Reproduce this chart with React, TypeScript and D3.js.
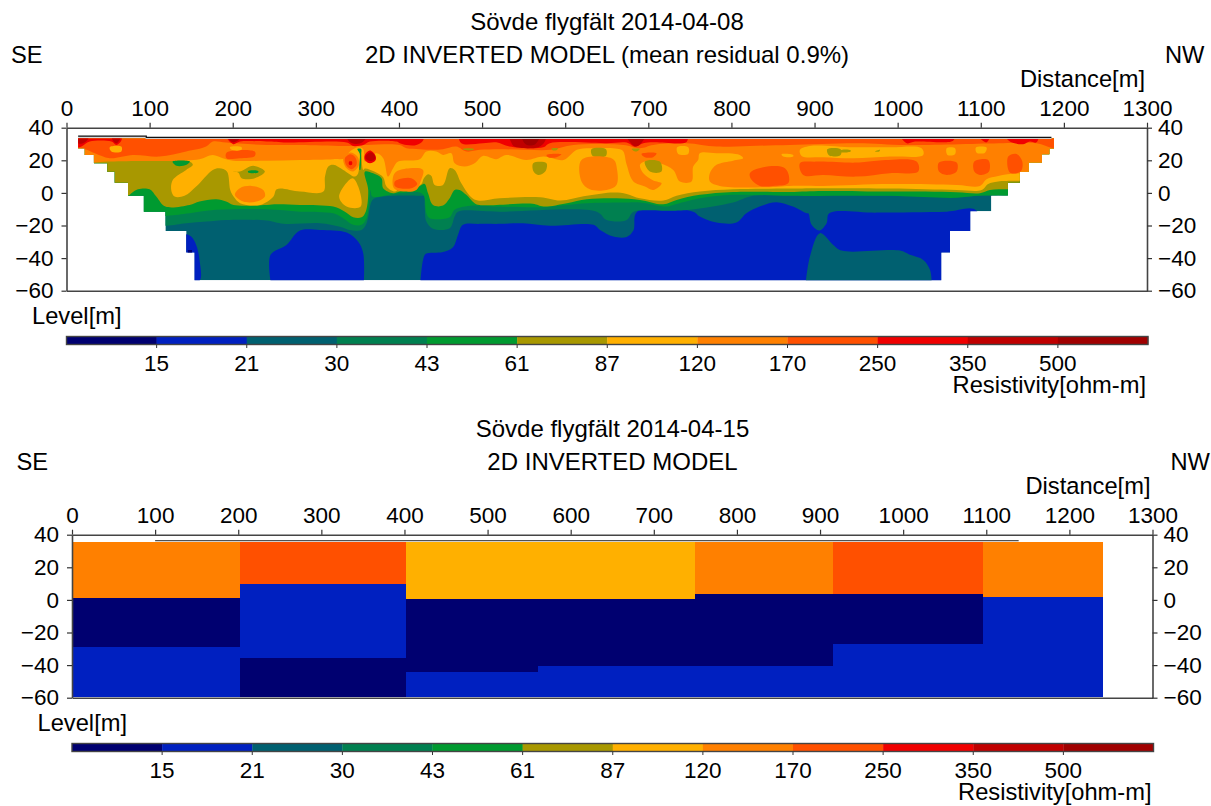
import React from "react";
import { useEffect, useRef } from "react";
import * as d3 from "d3";

type Pt = [number, number];

const distanceTicks = [0, 100, 200, 300, 400, 500, 600, 700, 800, 900, 1000, 1100, 1200, 1300];
const levelTicks = [40, 20, 0, -20, -40, -60];
const scaleLabels = [15, 21, 30, 43, 61, 87, 120, 170, 250, 350, 500];
const scaleColors = ["#000070", "#0020c0", "#006070", "#008050", "#009a30", "#a89800", "#ffb000", "#ff8000", "#ff5000", "#f00000", "#c00000", "#a00000"];

// typical resistivity of each colour class
const R0 = 12, R1 = 18, R2 = 25, R3 = 36, R4 = 50, R5 = 73, R6 = 100, R7 = 145, R8 = 200, R9 = 300, R10 = 420, R11 = 600;

// first survey: the section outline, distance then level
const outline: Pt[] = [[14, 33.4], [14, 27.4], [22, 27.4], [22, 23.3], [33, 23.3], [33, 18.2], [49, 18.2], [49, 13], [58, 13], [58, 6.3], [74, 6.3], [74, -1.8], [93, -1.8], [93, -11.5], [119, -11.5], [119, -23.3], [144, -23.3], [144, -36.6], [154, -36.6], [154, -53.6], [1052.5, -53.6], [1052.5, -36.6], [1063, -36.6], [1063, -23.3], [1087.4, -23.3], [1087.4, -11.2], [1112.7, -11.2], [1112.7, -1.8], [1132.7, -1.8], [1132.7, 6.3], [1147, 6.3], [1147, 13], [1157.6, 13], [1157.6, 18.6], [1173.6, 18.6], [1173.6, 23.7], [1182.5, 23.7], [1182.5, 27.2], [1188, 27.2], [1188, 33.4]];
const topoLine: Pt[] = [[14, 34.8], [96, 34.8], [96, 34.1], [1185, 34.1]];

// contour lines: everything above the line takes the class colour
const lineR3: Pt[] = [[0, -20.2], [119, -20.2], [144, -18.6], [168, -17.6], [192, -16.6], [241, -17], [261, -19], [305, -18.6], [329, -20.7], [341, -22.7], [355, -22.7], [361, -18.6], [367, -5.3], [371, -3.3], [393, -1.8], [427, -1.8], [430, -1.8], [431, -8.4], [433, -17.6], [441, -22], [461, -21.7], [467, -14.5], [471, -11.5], [521, -11.5], [638, -11.5], [650, -16.6], [674, -16.6], [680, -12.5], [686, -11], [730, -11], [750, -10.4], [802, -5.9], [826, -1.8], [906, -1], [991, -1.8], [1063, -2.7], [1111, -1.4], [1200, -1.4]];
const lineR4: Pt[] = [[0, -14.1], [119, -14.1], [148, -12.5], [180, -10.4], [241, -10], [281, -11.5], [321, -12.5], [333, -15.5], [345, -19.6], [355, -19.6], [361, -15.5], [364, -6.3], [366, 1.8], [368, -2.2], [393, -0.6], [401, -0.2], [425, 0.2], [430, -1.8], [433, -12.5], [437, -15.5], [461, -14.9], [467, -10.4], [489, -7.8], [521, -8.4], [570, -8.8], [602, -7.4], [626, -6.3], [674, -5.9], [690, -5.9], [722, -8.4], [730, -7.4], [762, -3.3], [802, -1.2], [870, -1.8], [991, -1.8], [1071, -3], [1095, -1.8], [1135, -1.8], [1200, -1.8]];
const lineR5: Pt[] = [[0, -1.8], [74, -1.8], [78, -0.2], [86, 2.2], [100, 2.2], [108, -2.2], [119, -8.4], [148, -7.4], [160, -5.3], [180, -3.9], [192, -5.3], [201, -7.4], [241, -7.4], [253, -7], [281, -7.4], [321, -8.4], [335, -11.5], [345, -14.9], [355, -14.9], [360, -11.5], [363, 1.8], [359, 13], [369, 12], [379, 9], [381, 2.9], [393, -0.2], [401, 0.8], [421, 2.9], [427, 4.9], [431, 5.5], [435, -0.2], [441, -7.4], [453, -7.8], [461, -3.3], [467, 1.8], [473, 1.8], [481, -1.2], [491, -6.3], [497, -7.4], [561, -6.7], [574, -8.4], [602, -6.3], [626, -3.9], [662, -3.3], [690, -4.3], [718, -7], [734, -4.3], [762, -1.2], [802, 0.6], [870, 0.6], [910, 1.2], [991, 0.8], [1071, 0.4], [1099, -0.2], [1111, 1.8], [1135, 2.3], [1200, 2.3]];
const lineR6: Pt[] = [[0, 19.3], [148, 19.3], [152, 17.2], [144, 14.1], [128, 8], [126, 1.8], [130, -2.2], [142, -1.8], [156, 3.9], [176, 14.1], [184, 15.1], [193, 13.1], [197, 1.8], [201, -2.2], [209, -6.3], [233, -7.4], [249, -2.2], [253, 2.2], [281, 0.8], [309, 0.8], [311, 10], [315, 16.2], [321, 17.2], [333, 14.1], [347, 10], [351, 12], [354, 26.4], [357, 14.1], [359, 15], [371, 13], [381, 9.6], [385, 3.9], [395, 0.8], [401, 2.9], [417, 2.9], [427, 5.5], [430, 9], [435, 11.5], [439, 10.4], [443, 4.9], [453, 4.9], [461, 15.1], [467, 14.1], [475, 5.9], [487, -2.7], [495, -4.7], [521, -3.3], [570, -2.7], [594, -4.7], [626, -1.8], [658, 0.2], [674, -0.6], [690, -3.3], [718, -4.7], [734, -1.8], [762, 0.8], [802, 2.2], [870, 2.7], [910, 2.9], [991, 2.7], [1071, 1.8], [1101, 1.8], [1109, 5.5], [1121, 7], [1200, 7]];
const lineR7: Pt[] = [[0, 18.6], [33, 18.6], [49, 19.2], [88, 19.6], [128, 19.6], [160, 20.7], [176, 23.3], [188, 21.3], [201, 19.8], [241, 19.8], [281, 20.2], [321, 20.7], [335, 21.3], [341, 25.4], [351, 28], [357, 26.8], [359, 19.2], [373, 24.3], [381, 21.3], [387, 10], [393, 15.1], [399, 19.2], [425, 20.7], [433, 25.4], [445, 25.4], [453, 23.3], [463, 24.3], [467, 18.2], [479, 16.2], [491, 18.2], [501, 22.7], [517, 20.7], [529, 23.3], [553, 20.2], [574, 22.3], [598, 20.2], [614, 26.4], [630, 27.4], [666, 26.8], [670, 25.4], [674, 17.2], [682, 7], [696, 3.9], [706, 1.8], [716, 5.9], [706, 7.6], [694, 12], [690, 17.2], [696, 19.2], [714, 18.2], [730, 14.1], [738, 7], [752, 7], [754, 16.2], [760, 20.2], [762, 24.3], [782, 24.3], [810, 23.3], [814, 21.3], [802, 19.8], [782, 17.2], [774, 12], [774, 7], [786, 4.3], [842, 3.5], [870, 4.3], [910, 4.3], [991, 5.5], [1071, 4.9], [1099, 4.3], [1107, 8.4], [1121, 10.4], [1147, 12.1], [1200, 12.1]];
const lineR8: Pt[] = [[0, 27.4], [22, 26.8], [34, 24.3], [52, 21.3], [80, 23.3], [112, 22.3], [144, 25.4], [168, 28.4], [176, 31.5], [192, 30.9], [241, 29.4], [281, 29.4], [337, 28.8], [361, 29.4], [401, 29.4], [409, 27.4], [425, 26.8], [441, 26.4], [453, 26.8], [469, 28.4], [481, 25.4], [497, 26.4], [521, 26.8], [553, 26.4], [582, 26.4], [610, 29.4], [670, 29.4], [690, 27.4], [706, 29.4], [746, 30.5], [782, 28.4], [822, 28.8], [870, 29.4], [951, 30.5], [1011, 29.4], [1127, 30.5], [1167, 30.5], [1187, 27.4], [1200, 27.4]];

const blueLeft: Pt[] = [[140, -25.4], [144, -25.4], [150, -26.8], [156, -31.9], [160, -41], [160, -54], [140, -54]];
const blueMiddle: Pt[] = [[245.5, -54], [245.5, -38], [264.7, -31.9], [280.8, -23.1], [304.9, -22.7], [337, -24.3], [351, -29.9], [357, -37], [357.8, -54]];
const blueRight: Pt[] = [[425.9, -54], [429, -41.1], [432.3, -37.4], [453, -36.2], [465, -33.3], [471, -25.8], [477, -19.6], [497, -19], [521, -19], [549, -18.6], [581.5, -20.2], [634, -19.6], [642, -22.7], [658, -26.8], [674, -27], [682, -23.1], [686.6, -11.5], [754, -11.5], [762, -14.5], [782, -18.2], [806, -18.2], [818, -12.5], [834, -8.4], [854, -5.7], [874, -8.4], [890.4, -12.5], [892.5, -12.5], [896.5, -19.6], [905.7, -23.1], [914.5, -18.6], [917.7, -12.5], [975, -12.1], [1059, -11.5], [1095, -11], [1095, -54]];
const navySpot: Pt[] = [[146, -35], [151, -35], [151, -37], [146, -37]];
const tealLower: Pt[] = [[889.7, -54], [894.5, -39], [906.5, -24.7], [922.5, -31.9], [932.6, -35.4], [1002.8, -35.4], [1014.8, -38], [1030.8, -41.1], [1038.9, -47.2], [1040.9, -54]];

// isolated patches, painted over the contours, as [class, outline]
const patches: [number, Pt[]][] = [
  [R5, [[192.5, 13.1], [208.6, 13.1], [224.6, 16.6], [238.7, 13.1], [226.6, 9], [210.6, 9], [206.6, 12.5]]],
  [R4, [[218.6, 13.5], [230.6, 13.5], [230.6, 12.5], [218.6, 12.5]]],
  [R4, [[127.6, 19.2], [148.4, 19.2], [144.4, 17.2], [132.4, 16.6]]],
  [R7, [[202.6, -1.2], [208.6, 2.9], [222.6, 4.3], [236.7, 1.8], [238.7, -2.2], [228.6, -5.3], [212.6, -5.3]]],
  [R6, [[344, 9], [328, -2.2], [337, -8.4], [354, -8.4], [351, 3.9]]],
  [R7, [[333, 21.3], [341, 24.7], [350, 22.3], [352, 17.2], [345, 13.1], [337, 15.1]]],
  [R8, [[335, 21.3], [342, 23.7], [348, 21.3], [349, 17.2], [343, 14.5], [337, 16.6]]],
  [R9, [[340, 19.2], [343.4, 19.2], [343.4, 17.2], [340, 17.2]]],
  [R4, [[350, 27], [354.5, 27], [354.5, 24], [353.5, 14.1], [352.6, 14.1], [352.8, 24]]],
  [R9, [[359, 23.3], [365, 26], [371.4, 23.3], [372, 20.2], [365, 18.2], [359, 20.2]]],
  [R10, [[360, 22.9], [366, 24.9], [371, 22.9], [371, 20.7], [365, 19.6], [360, 20.9]]],
  [R6, [[52, 28], [66, 28.4], [66, 25.4], [54, 25.4]]],
  [R8, [[192.5, 24.7], [226.6, 25.4], [226.6, 22.7], [208.6, 21.3], [192.5, 21.3]]],
  [R6, [[196.6, 28], [210.6, 28], [210.6, 26.4], [198.6, 26.4]]],
  [R7, [[393, 10], [397, 13.1], [413, 15.1], [429, 14.1], [426, 7], [421, 1.8], [407, 0.8], [394, 2.9]]],
  [R8, [[395, 7], [405, 9], [415, 9], [422, 5.5], [415, 2.9], [401, 2.9], [395, 4.3]]],
  [R5, [[561.5, 18.2], [577.5, 18.2], [576, 13.1], [567.5, 11], [562, 13.1]]],
  [R5, [[631.6, 26.8], [649, 26.8], [649, 22.7], [633, 22.7]]],
  [R7, [[619.6, 20.2], [657.7, 20.7], [662.5, 14.1], [661.7, 4.9], [649.7, 1.8], [629.6, 2.2], [619.6, 7]]],
  [R5, [[695.8, 19.2], [713.9, 19.2], [715.9, 13.1], [701.8, 13.1]]],
  [R8, [[691.8, 23.9], [709.9, 24.3], [705.9, 21.9], [695.8, 21.9]]],
  [R8, [[822.2, 12.1], [838.2, 15.7], [862.3, 15.7], [868.3, 12.1], [868.3, 5.9], [850.2, 4.3], [834.2, 4.3], [824.2, 8]]],
  [R6, [[734.7, 28], [748, 28], [748, 23.9], [736, 23.9]]],
  [R6, [[860.3, 23.7], [874.3, 23.3], [874.3, 22.3], [862.3, 22.3]]],
  [R8, [[577.5, 23.3], [595.5, 23.7], [589.5, 21.9], [579.5, 21.9]]],
  [R5, [[477.2, 27], [490, 27], [490, 26.4], [477.2, 26.4]]],
  [R5, [[583.5, 27.2], [591.5, 27.2], [589.5, 26.2], [584.7, 26.2]]],
  [R5, [[679.8, 27], [689.8, 27], [685, 25.4]]],
  [R6, [[882.4, 26.4], [894.5, 28.8], [946.6, 28], [990.7, 28], [1028.8, 27.4], [1030.8, 23.3], [990.7, 22.3], [946.6, 21.3], [910.5, 21.9], [884.4, 22.7]]],
  [R8, [[882.4, 18.2], [902.5, 19.2], [950.6, 18.6], [974.7, 19.8], [1022.8, 19.2], [1024.8, 13.1], [990.7, 12.1], [950.6, 10], [910.5, 11], [886.4, 11]]],
  [R8, [[1049.7, 18.6], [1071, 18.6], [1071, 13.1], [1059, 11], [1049.7, 13.1]]],
  [R8, [[1092.2, 19.2], [1109, 20.2], [1109.9, 13.1], [1099, 11], [1092.2, 13.1]]],
  [R8, [[1133, 22.3], [1143, 23.9], [1150, 19.2], [1148, 13.1], [1135, 12.5]]],
  [R6, [[1059, 27.4], [1069, 27.4], [1069, 23.7], [1060, 23.3]]],
  [R6, [[1094.2, 27.8], [1107, 27.8], [1105, 24.7], [1095, 24.7]]],
  [R5, [[915.3, 26.8], [931.4, 26.8], [931.4, 23.3], [917.7, 22.9]]],
  [R5, [[931.4, 26.2], [943.4, 26.2], [943.4, 25.4], [931.4, 25]]],
  [R5, [[972.7, 25.4], [978.7, 26.4], [977.9, 25.4]]],
  // near-surface highs
  [R9, [[14, 36], [14, 28], [18, 28.4], [28, 31.5], [54, 31.5], [60, 29.4], [66, 32.1], [66, 36]]],
  [R9, [[192, 36], [200.6, 29.9], [208.6, 31.5], [241, 31.5], [265, 30.9], [337, 30.9], [345, 28.8], [357, 29.4], [365, 31.5], [397, 31.5], [401, 30.5], [409, 29.4], [421, 29.4], [429, 32.1], [429, 36]]],
  [R9, [[473, 36], [475, 30.5], [501, 30.5], [517, 31], [533, 28.4], [573.5, 28], [581.5, 30.5], [650, 30.5], [674, 30.9], [684, 28.4], [694, 30.5], [706, 31], [746, 31.3], [746, 36]]],
  [R9, [[1003, 36], [1011, 30.5], [1021, 31.5], [1067, 32.1], [1067, 36]]],
  [R9, [[1095, 36], [1107, 31], [1111, 36]]],
  [R9, [[1129, 36], [1135, 31.5], [1151, 29.9], [1159, 31.5], [1167, 31], [1169, 36]]],
  [R10, [[14, 36], [14, 30.5], [20, 30.5], [26, 33], [26, 36]]],
  [R10, [[54, 36], [56, 32], [60, 30.5], [64, 32.5], [66, 36]]],
  [R10, [[192, 36], [200, 31], [208, 33], [208, 36]]],
  [R10, [[337, 36], [340, 31.5], [348, 30], [356, 31], [362, 36]]],
  [R10, [[533, 36], [535, 31], [539, 28.4], [567.5, 28], [575.5, 31.5], [576, 36]]],
  [R11, [[548, 36], [552, 30], [563, 29.5], [570, 36]]],
  [R10, [[673, 36], [680, 30], [685, 28.4], [691, 30.3], [697, 36]]],
];

// second survey: blocky inversion
const blockEdges = [0, 202, 402, 561, 750, 915, 1096, 1240];
const layer1Base = [1.2, 9.8, 0.6, 0.6, 3.7, 3.7, 1.6];
const layer2Base = [-28.8, -35.6, -44, -40.5, -40.5, -27, -59.3];
const layer1Rho = [R7, R8, R6, R6, R7, R8, R7];
const layer2Rho = [R0, R1, R0, R0, R0, R0, R1];
const layer3Rho = [R1, R0, R1, R1, R1, R1, R1];
const blockTop = 35.8;
const blockBottom = -59.3;
const topoLine2: Pt[] = [[100, 36.3], [1139, 36.3]];

const FONT = "'Liberation Sans', Arial, sans-serif";
const TICK_SIZE = 22.5;
const TEXT_SIZE = 23.7;
const TITLE_SIZE = 24;

function App() {
  const ref = useRef<SVGSVGElement>(null);

  useEffect(() => {
    const svg = d3.select(ref.current);
    svg.selectAll("*").remove();

    const resistivity = d3.scaleThreshold<number, string>().domain(scaleLabels).range(scaleColors);

    function label(g, x, y, text, anchor = "start", size = TEXT_SIZE) {
      g.append("text").attr("x", x).attr("y", y).attr("text-anchor", anchor)
        .attr("font-family", FONT).attr("font-size", size).attr("fill", "#000").text(text);
    }

    function drawPanel(dx, dy, title, subtitle, drawModel) {
      const g = svg.append("g").attr("transform", `translate(${dx},${dy})`);
      const x = d3.scaleLinear().domain([0, 1300]).range([66.5, 1147]);
      const y = d3.scaleLinear().domain([40, -60]).range([127.7, 290.7]);

      drawModel(g, x, y);

      // axes, the last number is the gap between tick and label
      const axes: [any, number, number, number][] = [
        [d3.axisTop(x).tickValues(distanceTicks), 0, y(40), 7],
        [d3.axisBottom(x).tickValues([]), 0, y(-60), 3],
        [d3.axisLeft(y).tickValues(levelTicks), x(0), 0, 8],
        [d3.axisRight(y).tickValues(levelTicks), x(1300), 0, 6],
      ];
      axes.forEach(([axis, tx, ty, pad]) => {
        const a = g.append("g").attr("transform", `translate(${tx},${ty})`)
          .call(axis.tickFormat(d3.format("d")).tickSize(5).tickSizeOuter(0).tickPadding(pad));
        a.attr("font-family", FONT).attr("font-size", TICK_SIZE);
        a.select(".domain").attr("stroke", "#444").attr("stroke-width", 1.6);
        a.selectAll(".tick line").attr("stroke", "#333").attr("stroke-width", 1.2);
        a.selectAll("text").attr("fill", "#000");
      });

      label(g, 607, 30, title, "middle", TITLE_SIZE);
      label(g, 607, 63, subtitle, "middle", TITLE_SIZE);
      label(g, 11, 63, "SE");
      label(g, 1165, 63, "NW");
      label(g, 1145, 87, "Distance[m]", "end");
      label(g, 32, 324, "Level[m]");

      // colour scale
      const bar = d3.scaleLinear().domain([0, scaleColors.length]).range([66.5, 1148]);
      const barG = g.append("g");
      barG.selectAll("rect").data(scaleColors).join("rect")
        .attr("x", (d, i) => bar(i)).attr("width", bar(1) - bar(0) + 0.3)
        .attr("y", 336.5).attr("height", 8).attr("fill", d => d);
      barG.append("rect").attr("x", bar(0)).attr("y", 336.5)
        .attr("width", bar(scaleColors.length) - bar(0)).attr("height", 8)
        .attr("fill", "none").attr("stroke", "#444").attr("stroke-width", 1.4);
      scaleLabels.forEach((v, i) => {
        barG.append("line").attr("x1", bar(i + 1)).attr("x2", bar(i + 1)).attr("y1", 344.5).attr("y2", 348)
          .attr("stroke", "#333");
        label(barG, bar(i + 1), 371, String(v), "middle", TICK_SIZE);
      });
      label(g, 1146, 393, "Resistivity[ohm-m]", "end");
    }

    drawPanel(0, 0, "Sövde flygfält 2014-04-08", "2D INVERTED MODEL (mean residual 0.9%)", (g, x, y) => {
      const line = d3.line<Pt>().x(d => x(d[0])).y(d => y(d[1]));
      const smooth = d3.line<Pt>().x(d => x(d[0])).y(d => y(d[1])).curve(d3.curveCatmullRom.alpha(0.5));
      const blob = d3.line<Pt>().x(d => x(d[0])).y(d => y(d[1])).curve(d3.curveCatmullRomClosed.alpha(0.5));

      svg.append("clipPath").attr("id", "outline-a").append("path").attr("d", line(outline) + "Z");
      const m = g.append("g").attr("clip-path", "url(#outline-a)");
      const fill = (d: string, rho: number) => m.append("path").attr("d", d).attr("fill", resistivity(rho));
      const above = (pts: Pt[], rho: number) =>
        fill(smooth(pts) + `L${x(1300)},${y(40)}L${x(0)},${y(40)}Z`, rho);

      fill(line(outline) + "Z", R2);
      fill(smooth(blueLeft) + "Z", R1);
      fill(line(navySpot) + "Z", R0);
      fill(smooth(blueMiddle) + "Z", R1);
      fill(smooth(blueRight) + "Z", R1);
      fill(smooth(tealLower) + "Z", R2);
      above(lineR3, R3);
      above(lineR4, R4);
      above(lineR5, R5);
      above(lineR6, R6);
      above(lineR7, R7);
      above(lineR8, R8);
      patches.forEach(([rho, pts]) => fill(blob(pts), rho));

      g.append("path").attr("d", line(topoLine.map(d => [d[0], d[1] - 0.5] as Pt))).attr("fill", "none")
        .attr("stroke", "#ccc").attr("stroke-width", 1.5);
      g.append("path").attr("d", line(topoLine)).attr("fill", "none").attr("stroke", "#111").attr("stroke-width", 1.2);
    });

    drawPanel(5.5, 407, "Sövde flygfält 2014-04-15", "2D INVERTED MODEL", (g, x, y) => {
      const line = d3.line<Pt>().x(d => x(d[0])).y(d => y(d[1]));
      const block = (rows: { top: number; base: number; rho: number; i: number }[]) =>
        g.append("g").attr("shape-rendering", "crispEdges").selectAll("rect").data(rows).join("rect")
          .attr("x", d => x(blockEdges[d.i])).attr("width", d => x(blockEdges[d.i + 1]) - x(blockEdges[d.i]))
          .attr("y", d => y(d.top)).attr("height", d => y(d.base) - y(d.top))
          .attr("fill", d => resistivity(d.rho));
      block(layer1Rho.map((rho, i) => ({ i, rho, top: blockTop, base: layer1Base[i] })));
      block(layer2Rho.map((rho, i) => ({ i, rho, top: layer1Base[i], base: layer2Base[i] })));
      block(layer3Rho.map((rho, i) => ({ i, rho, top: layer2Base[i], base: blockBottom })));
      g.append("path").attr("d", line(topoLine2)).attr("fill", "none").attr("stroke", "#222").attr("stroke-width", 1);
    });
  }, []);

  return (
    <svg ref={ref} width={1211} height={806} style={{ position: "absolute", left: 0, top: 0, background: "#fff" }} />
  );
}

export default App;
